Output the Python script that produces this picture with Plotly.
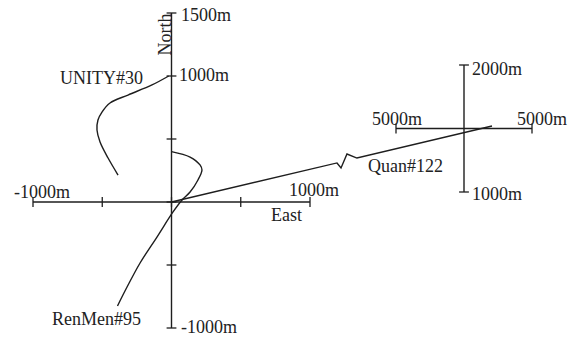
import plotly.graph_objects as go

# ---- main (local) plan view: east / north offsets in metres ----
east_ticks = [-1000, -500, 0, 500, 1000]
north_ticks = [-1000, -500, 0, 500, 1000, 1500]

# well trajectories (east, north), metres
unity30_e = [-20, -141, -314, -444, -502, -531, -538, -516, -458, -386]
unity30_n = [1000, 929, 849, 786, 714, 651, 571, 476, 349, 214]

renmen95_e = [0, 134, 206, 220, 191, 134, 76, 11, -105, -227, -321, -390]
renmen95_n = [400, 357, 294, 254, 175, 79, 16, -79, -278, -484, -675, -825]

# Quan#122 runs far out; the zigzag marks the break in scale
quan122_e = [0, 1195, 1224, 1267, 1339, 2314]
quan122_n = [0, 310, 270, 381, 349, 603]

# ---- regional inset cross ----
inset_e_ticks = [-5000, 5000]
inset_n_ticks = [1000, 2000]
inset_n_center = 1500

INK = "#1e1e1e"
FONT = dict(family="Liberation Serif, Times New Roman, serif", size=18, color="#222222")

fig = go.Figure()

# main axes
fig.add_trace(go.Scatter(x=[east_ticks[0], east_ticks[-1]], y=[0, 0], mode="lines",
                         line=dict(color=INK, width=1.4), xaxis="x", yaxis="y"))
fig.add_trace(go.Scatter(x=[0, 0], y=[north_ticks[0], north_ticks[-1]], mode="lines",
                         line=dict(color=INK, width=1.4), xaxis="x", yaxis="y"))
fig.add_trace(go.Scatter(x=east_ticks, y=[0] * len(east_ticks), mode="markers",
                         marker=dict(symbol="line-ns", size=7, line=dict(color=INK, width=1.3)),
                         xaxis="x", yaxis="y"))
fig.add_trace(go.Scatter(x=[0] * len(north_ticks), y=north_ticks, mode="markers",
                         marker=dict(symbol="line-ew", size=7, line=dict(color=INK, width=1.3)),
                         xaxis="x", yaxis="y"))

# inset axes
fig.add_trace(go.Scatter(x=inset_e_ticks, y=[inset_n_center] * 2, mode="lines+markers",
                         line=dict(color=INK, width=1.4),
                         marker=dict(symbol="line-ns", size=7, line=dict(color=INK, width=1.3)),
                         xaxis="x2", yaxis="y2"))
fig.add_trace(go.Scatter(x=[0, 0], y=inset_n_ticks, mode="lines+markers",
                         line=dict(color=INK, width=1.4),
                         marker=dict(symbol="line-ew", size=7, line=dict(color=INK, width=1.3)),
                         xaxis="x2", yaxis="y2"))

# wells
for e, n, shape in [(unity30_e, unity30_n, "spline"),
                    (renmen95_e, renmen95_n, "spline"),
                    (quan122_e, quan122_n, "linear")]:
    fig.add_trace(go.Scatter(x=e, y=n, mode="lines",
                             line=dict(color=INK, width=1.4, shape=shape, smoothing=1.0),
                             xaxis="x", yaxis="y"))

ann = []


def label(text, x, y, ref="", xanchor="center", xshift=0, yshift=0, angle=0):
    ann.append(dict(text=text, x=x, y=y, xref="x" + ref, yref="y" + ref,
                    showarrow=False, xanchor=xanchor, yanchor="middle", borderpad=0,
                    xshift=xshift, yshift=yshift, textangle=angle, font=FONT))


# main cross labels
label("-1000m", east_ticks[0], 0, xshift=9, yshift=10)
label("1000m", east_ticks[-1], 0, xshift=4, yshift=12)
label("East", east_ticks[-1], 0, xshift=-24, yshift=-13)
label("1500m", 0, north_ticks[-1], xanchor="left", xshift=8, yshift=-2)
label("1000m", 0, 1000, xanchor="left", xshift=6, yshift=1)
label("-1000m", 0, north_ticks[0], xanchor="left", xshift=8, yshift=1)
label("North", 0, north_ticks[-1], xshift=-7, yshift=-22, angle=-90)

# well names
label("UNITY#30", unity30_e[0], unity30_n[0], xanchor="right", xshift=-25, yshift=-2)
label("RenMen#95", renmen95_e[-1], renmen95_n[-1], xshift=-21, yshift=-13)
label("Quan#122", quan122_e[-1], quan122_n[-1], xshift=-86, yshift=-40)

# inset labels
label("5000m", inset_e_ticks[0], inset_n_center, ref="2", xshift=1, yshift=10)
label("5000m", inset_e_ticks[-1], inset_n_center, ref="2", xshift=10, yshift=10)
label("2000m", 0, inset_n_ticks[-1], ref="2", xanchor="left", xshift=7, yshift=-4)
label("1000m", 0, inset_n_ticks[0], ref="2", xanchor="left", xshift=7, yshift=-2)

hidden = dict(visible=False, showgrid=False, zeroline=False, fixedrange=True)
fig.update_layout(
    width=576, height=337,
    margin=dict(l=0, r=0, t=0, b=0),
    paper_bgcolor="white", plot_bgcolor="white",
    showlegend=False,
    xaxis=dict(range=[-1238.3, 2920.6], domain=[0, 1], **hidden),
    yaxis=dict(range=[-1071.4, 1603.2], domain=[0, 1], **hidden),
    xaxis2=dict(range=[-34118, 8235], domain=[0, 1], anchor="y2", overlaying="x", **hidden),
    yaxis2=dict(range=[-141.7, 2511.8], domain=[0, 1], anchor="x2", overlaying="y", **hidden),
    annotations=ann,
)

fig.write_html("out.html")
